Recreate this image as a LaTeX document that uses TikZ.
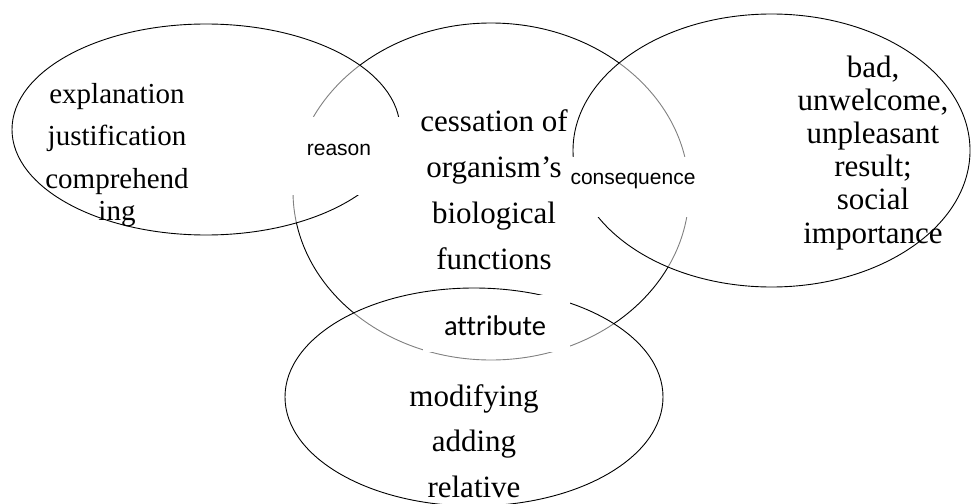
\documentclass[tikz,border=0pt]{standalone}
\usepackage{fontspec}
\setmainfont{Liberation Serif}
\newfontfamily\labelsans{Liberation Sans}
\newfontfamily\labelcal[Ligatures=CommonOff]{Carlito}
\begin{document}
\begin{tikzpicture}[x=1pt,y=-1pt,
  ring/.style={draw=black,line width=0.9pt},
  sidering/.style={ring,fill=white,fill opacity=0.5},
  gapbox/.style={fill=white,draw=none,inner sep=0pt},
  block/.style={align=center,inner sep=0pt,anchor=base},
  sanslabel/.style={inner sep=0pt,anchor=base,font=\labelsans\fontsize{21}{25}\selectfont},
  callabel/.style={inner sep=0pt,anchor=base,font=\labelcal\fontsize{28.5}{34}\selectfont}]
\useasboundingbox (0,0) rectangle (971,503);
\clip (0,0) rectangle (971,503);

% central circle of meaning
\draw[ring] (491,191.5) ellipse [x radius=198pt, y radius=168.5pt];
% surrounding circles, lightly veiling what lies beneath them
\draw[sidering] (206,129.5) ellipse [x radius=194pt, y radius=105.5pt];
\draw[sidering] (771.5,150.5) ellipse [x radius=198.5pt, y radius=136.5pt];
\draw[sidering] (474,397) ellipse [x radius=189pt, y radius=109pt];

% white panels behind the relation labels
\node[gapbox, minimum width=117pt, minimum height=78pt] (reasonbox) at (343.5,156) {};
\node[gapbox, minimum width=132pt, minimum height=60pt] (consbox) at (634,187) {};
\node[gapbox, minimum width=147pt, minimum height=57pt] (attrbox) at (496.5,323.5) {};

% relation labels
\node[sanslabel] (reason) at (339,155) {reason};
\node[sanslabel] (consequence) at (633,184) {consequence};
\node[callabel] (attribute) at (495,335) {attribute};

% contents of the circles (placed by the baseline of their last line)
\node[block, font=\fontsize{29}{42.5}\selectfont] (left) at (117,220)
  {explanation\\justification\\comprehend\\[-10.5pt]ing};
\node[block, font=\fontsize{31}{45.7}\selectfont] (centre) at (494,269)
  {cessation of\\organism’s\\biological\\functions};
\node[block, font=\fontsize{31}{33.2}\selectfont] (right) at (873,243)
  {bad,\\unwelcome,\\unpleasant\\result;\\social\\importance};
\node[block, font=\fontsize{31}{45.5}\selectfont] (bottom) at (474,497)
  {modifying\\adding\\relative};
\end{tikzpicture}
\end{document}
